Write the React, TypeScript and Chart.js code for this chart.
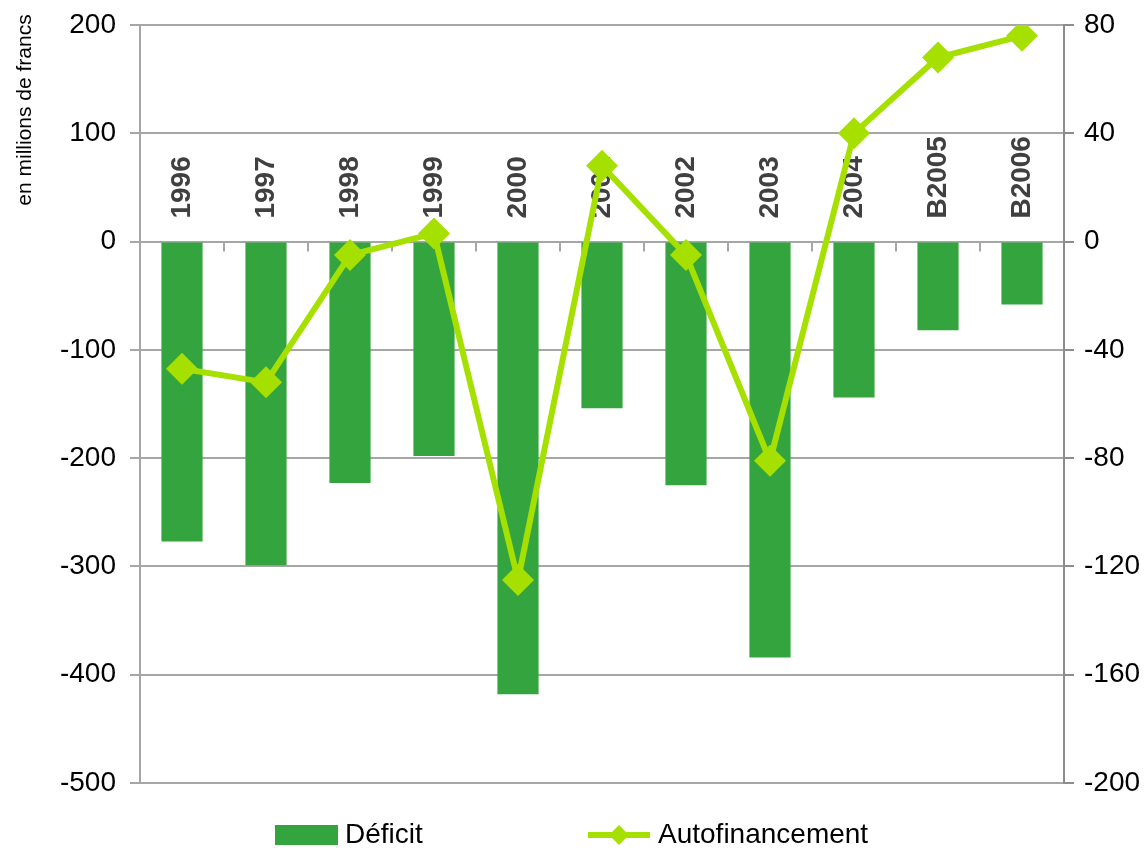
import React, { useEffect, useRef } from "react";
import { Chart, registerables } from "chart.js";
Chart.register(...registerables);

const categories = ["1996", "1997", "1998", "1999", "2000", "2001", "2002", "2003", "2004", "B2005", "B2006"];
const deficit = [-277, -299, -223, -198, -418, -154, -225, -384, -144, -82, -58];
const autofinancement = [-47, -52, -5, 3, -125, 28, -5, -81, 40, 68, 76];
const leftRange = [-500, 200, 100];
const rightRange = [-200, 80, 40];
const seriesNames = ["Déficit", "Autofinancement"];
const axisTitle = "en millions de francs";

const BAR = "#34A53E";
const LINE = "#A6E000";
const GRID = "#A6A6A6";
const FONT = "Arial, 'Liberation Sans', sans-serif";

const decor = {
  id: "decor",
  beforeDatasetsDraw(chart: any) {
    const { ctx } = chart;
    const x = chart.scales.x;
    const y = chart.scales.y;
    const y0 = y.getPixelForValue(0);
    ctx.save();
    ctx.strokeStyle = GRID;
    ctx.lineWidth = 2;
    for (let i = 0; i < categories.length - 1; i++) {
      const bx = (x.getPixelForValue(i) + x.getPixelForValue(i + 1)) / 2;
      ctx.beginPath();
      ctx.moveTo(bx, y0);
      ctx.lineTo(bx, y0 + 10);
      ctx.stroke();
    }
    ctx.fillStyle = "#404040";
    ctx.font = `bold 28px ${FONT}`;
    ctx.textAlign = "left";
    ctx.textBaseline = "middle";
    categories.forEach((c, i) => {
      const cx = x.getPixelForValue(i);
      ctx.save();
      ctx.translate(cx, y0 - 23);
      ctx.rotate(-Math.PI / 2);
      ctx.fillText(c, 0, 0);
      ctx.restore();
    });
    ctx.restore();
  },
  afterDraw(chart: any) {
    const { ctx } = chart;
    ctx.save();
    ctx.fillStyle = "#000";
    ctx.font = `21px ${FONT}`;
    ctx.textAlign = "center";
    ctx.textBaseline = "middle";
    ctx.translate(25, 110);
    ctx.rotate(-Math.PI / 2);
    ctx.fillText(axisTitle, 0, 0);
    ctx.restore();

    ctx.save();
    const ly = 835;
    ctx.fillStyle = BAR;
    ctx.fillRect(275, ly - 10, 63, 20);
    ctx.fillStyle = "#000";
    ctx.font = `28px ${FONT}`;
    ctx.textAlign = "left";
    ctx.textBaseline = "middle";
    ctx.fillText(seriesNames[0], 345, ly);
    ctx.strokeStyle = LINE;
    ctx.lineWidth = 6;
    ctx.beginPath();
    ctx.moveTo(588, ly);
    ctx.lineTo(650, ly);
    ctx.stroke();
    ctx.fillStyle = LINE;
    ctx.beginPath();
    ctx.moveTo(619, ly - 10);
    ctx.lineTo(629, ly);
    ctx.lineTo(619, ly + 10);
    ctx.lineTo(609, ly);
    ctx.closePath();
    ctx.fill();
    ctx.fillStyle = "#000";
    ctx.fillText(seriesNames[1], 658, ly);
    ctx.restore();
  },
};

export default function App() {
  const ref = useRef<HTMLCanvasElement>(null);
  useEffect(() => {
    document.body.style.margin = "0";
    const chart = new Chart(ref.current!, {
      type: "bar",
      data: {
        labels: categories,
        datasets: [
          {
            type: "line",
            label: seriesNames[1],
            data: autofinancement,
            yAxisID: "y2",
            borderColor: LINE,
            backgroundColor: LINE,
            borderWidth: 6,
            tension: 0,
            pointStyle: "rectRot",
            pointRadius: 16,
            pointBorderWidth: 0,
            pointBackgroundColor: LINE,
            order: 0,
          } as any,
          {
            type: "bar",
            label: seriesNames[0],
            data: deficit,
            yAxisID: "y",
            backgroundColor: BAR,
            barPercentage: 0.49,
            categoryPercentage: 1,
            order: 1,
          },
        ],
      },
      options: {
        animation: false,
        responsive: false,
        maintainAspectRatio: false,
        layout: { padding: { top: 25, bottom: 65, left: 0, right: 0 } },
        plugins: { legend: { display: false }, tooltip: { enabled: false } },
        scales: {
          x: { display: false, offset: true },
          y: {
            position: "left",
            min: leftRange[0],
            max: leftRange[1],
            ticks: { stepSize: leftRange[2], color: "#000", font: { size: 28, family: FONT }, padding: 14 },
            grid: { color: GRID, lineWidth: 2, tickLength: 10 },
            border: { color: GRID, width: 2 },
            afterFit: (s: any) => { s.width = 140; s.paddingTop = 0; s.paddingBottom = 0; },
          },
          y2: {
            position: "right",
            min: rightRange[0],
            max: rightRange[1],
            ticks: { stepSize: rightRange[2], color: "#000", font: { size: 28, family: FONT }, padding: 10 },
            grid: { drawOnChartArea: false, color: "#8C8C8C", lineWidth: 2, tickLength: 10 },
            border: { color: "#8C8C8C", width: 2 },
            afterFit: (s: any) => { s.width = 82; s.paddingTop = 0; s.paddingBottom = 0; },
          },
        },
      },
      plugins: [decor],
    });
    return () => chart.destroy();
  }, []);
  return <canvas ref={ref} width={1146} height={848} style={{ display: "block" }} />;
}
